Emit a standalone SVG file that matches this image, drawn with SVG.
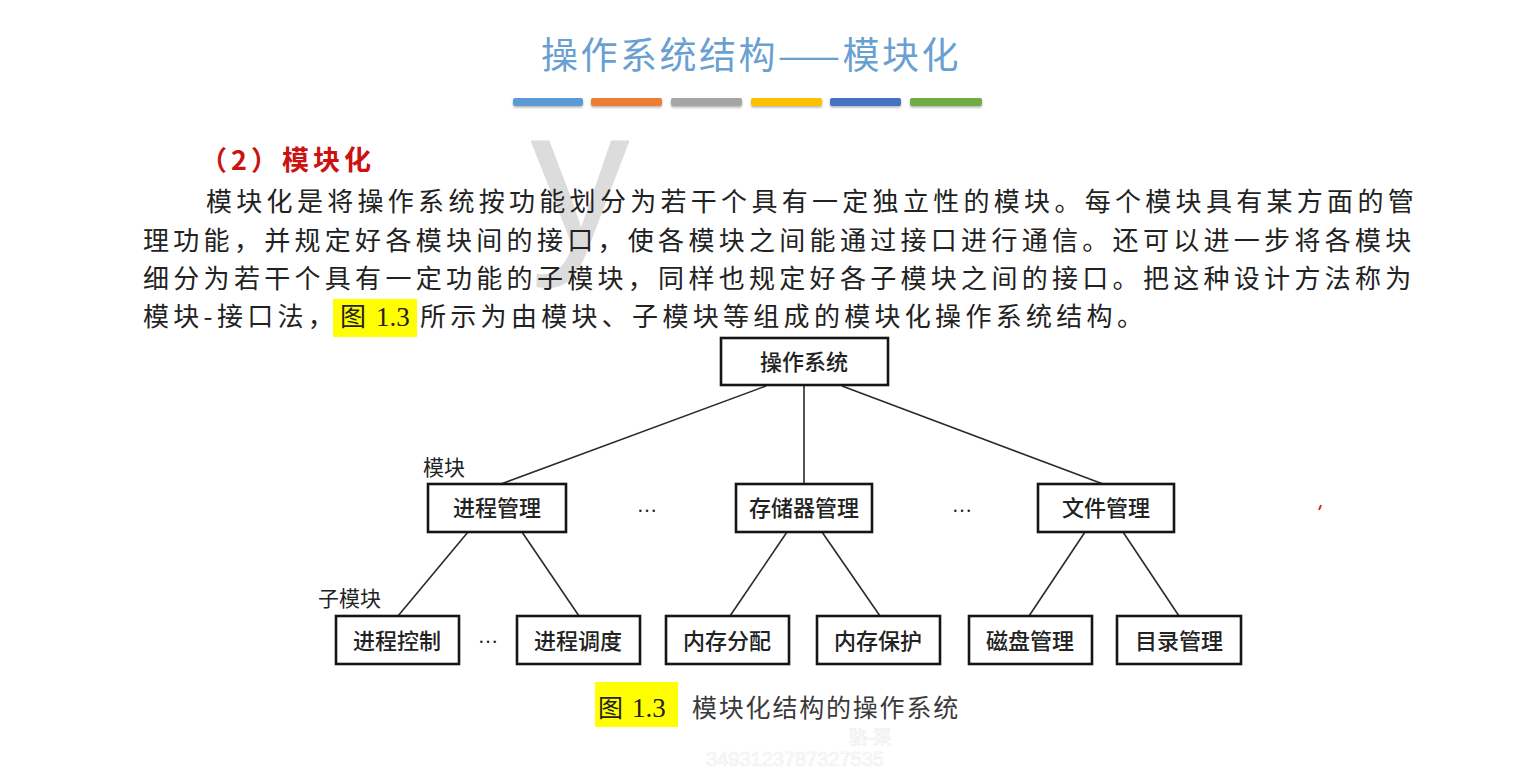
<svg xmlns="http://www.w3.org/2000/svg" width="1526" height="767" viewBox="0 0 1526 767">
  <defs>
    <filter id="sh" x="-5%" y="-50%" width="110%" height="250%">
      <feDropShadow dx="0" dy="1.5" stdDeviation="1" flood-color="#000" flood-opacity="0.3"/>
    </filter>
  </defs>
  <style>
    .cjk { font-family: "Noto Sans CJK SC", "Noto Sans", sans-serif; }
    .body { font-family: "Noto Sans CJK SC", sans-serif; font-size: 26px; letter-spacing: 4.3px; fill: #222; }
    .num { font-family: "Liberation Serif", "Noto Sans CJK SC", serif; font-size: 27px; fill: #222; }
    .box { fill: #fff; stroke: #151515; stroke-width: 2.6; }
    .lbl { font-family: "Noto Sans CJK SC", sans-serif; font-size: 22px; font-weight: 500; fill: #222; text-anchor: middle; }
    .side { font-family: "Noto Sans CJK SC", sans-serif; font-size: 21px; fill: #222; }
    .dots { font-family: "Liberation Serif", serif; font-size: 20px; fill: #222; text-anchor: middle; }
    .edge { stroke: #2a2a2a; stroke-width: 1.6; fill: none; }
    .hl { fill: #ffff00; }
    .wm { fill: #ffffff; stroke: #ececec; stroke-width: 0.6; }
  </style>
  <rect width="1526" height="767" fill="#ffffff"/>

  <!-- faint background watermark -->
  <text x="530" y="246" font-family="Liberation Sans, sans-serif" font-size="200" fill="#dcdcdc">y</text>

  <!-- title -->
  <text x="751" y="69" class="cjk" font-size="37" fill="#6a9fd2" text-anchor="middle" letter-spacing="2.5">操作系统结构——模块化</text>
  <g filter="url(#sh)">
    <rect x="513" y="98" width="70" height="8" rx="2" fill="#5b9bd5"/>
    <rect x="591" y="98" width="71" height="8" rx="2" fill="#ed7d31"/>
    <rect x="671" y="98" width="71" height="8" rx="2" fill="#a5a5a5"/>
    <rect x="751" y="98" width="71" height="8" rx="2" fill="#ffc000"/>
    <rect x="830" y="98" width="71" height="8" rx="2" fill="#4472c4"/>
    <rect x="910" y="98" width="72" height="8" rx="2" fill="#70ad47"/>
  </g>

  <!-- heading -->
  <text x="200" y="170" class="cjk" font-size="27" font-weight="bold" letter-spacing="4" fill="#cc1111">（2）模块化</text>

  <!-- paragraph -->
  <text x="206" y="211" class="body">模块化是将操作系统按功能划分为若干个具有一定独立性的模块。每个模块具有某方面的管</text>
  <text x="143" y="250" class="body">理功能，并规定好各模块间的接口，使各模块之间能通过接口进行通信。还可以进一步将各模块</text>
  <text x="143" y="288" class="body">细分为若干个具有一定功能的子模块，同样也规定好各子模块之间的接口。把这种设计方法称为</text>
  <rect x="333" y="299" width="84" height="38" class="hl"/>
  <text x="143" y="326" class="body">模块-接口法，</text>
  <text x="340" y="326" class="body">图</text>
  <text x="376" y="326" class="num">1.3</text>
  <text x="420" y="326" class="body">所示为由模块、子模块等组成的模块化操作系统结构。</text>

  <!-- connectors -->
  <g id="connectors">
    <line class="edge" x1="766" y1="386" x2="501" y2="484"/>
    <line class="edge" x1="804" y1="386" x2="804" y2="484"/>
    <line class="edge" x1="842" y1="386" x2="1103" y2="484"/>
    <line class="edge" x1="468" y1="532" x2="398" y2="616"/>
    <line class="edge" x1="522" y1="532" x2="579" y2="616"/>
    <line class="edge" x1="787" y1="532" x2="730" y2="616"/>
    <line class="edge" x1="822" y1="532" x2="880" y2="616"/>
    <line class="edge" x1="1085" y1="532" x2="1029" y2="616"/>
    <line class="edge" x1="1123" y1="532" x2="1179" y2="616"/>
  </g>

  <!-- nodes -->
  <g id="n-os">
    <rect class="box" x="721" y="338" width="167" height="47"/>
    <text class="lbl" x="804" y="370">操作系统</text>
  </g>
  <g id="n-proc">
    <rect class="box" x="428" y="484" width="138" height="48"/>
    <text class="lbl" x="497" y="516">进程管理</text>
  </g>
  <g id="n-mem">
    <rect class="box" x="736" y="484" width="136" height="48"/>
    <text class="lbl" x="804" y="516">存储器管理</text>
  </g>
  <g id="n-file">
    <rect class="box" x="1038" y="484" width="136" height="48"/>
    <text class="lbl" x="1106" y="516">文件管理</text>
  </g>
  <g id="n-pctl">
    <rect class="box" x="336" y="616" width="123" height="48"/>
    <text class="lbl" x="397" y="649">进程控制</text>
  </g>
  <g id="n-psch">
    <rect class="box" x="517" y="616" width="123" height="48"/>
    <text class="lbl" x="578" y="649">进程调度</text>
  </g>
  <g id="n-malloc">
    <rect class="box" x="666" y="616" width="123" height="48"/>
    <text class="lbl" x="727" y="649">内存分配</text>
  </g>
  <g id="n-mprot">
    <rect class="box" x="817" y="616" width="123" height="48"/>
    <text class="lbl" x="878" y="649">内存保护</text>
  </g>
  <g id="n-disk">
    <rect class="box" x="969" y="616" width="123" height="48"/>
    <text class="lbl" x="1030" y="649">磁盘管理</text>
  </g>
  <g id="n-dir">
    <rect class="box" x="1117" y="616" width="124" height="48"/>
    <text class="lbl" x="1179" y="649">目录管理</text>
  </g>

  <!-- level labels and ellipses -->
  <text class="side" x="423" y="475">模块</text>
  <text class="side" x="318" y="606">子模块</text>
  <text class="dots" x="647" y="512">…</text>
  <text class="dots" x="962" y="512">…</text>
  <text class="dots" x="488" y="643">…</text>

  <!-- caption -->
  <g id="caption">
    <rect x="595" y="682" width="83" height="45" class="hl"/>
    <text x="598" y="717" class="cjk" font-size="25" fill="#222">图</text>
    <text x="632" y="717" class="num">1.3</text>
    <text x="692" y="717" class="cjk" font-size="25" letter-spacing="1.8" fill="#3a3a3a">模块化结构的操作系统</text>
  </g>

  <!-- faint overlay watermark -->
  <text x="870" y="744" class="cjk wm" font-size="18" text-anchor="middle">骆-渠</text>
  <text x="795" y="766" class="wm" font-family="Liberation Sans, sans-serif" font-size="20" text-anchor="middle">3493123787327535</text>

  <!-- red speck -->
  <line x1="1319" y1="510" x2="1321" y2="505" stroke="#c03030" stroke-width="2"/>
</svg>
